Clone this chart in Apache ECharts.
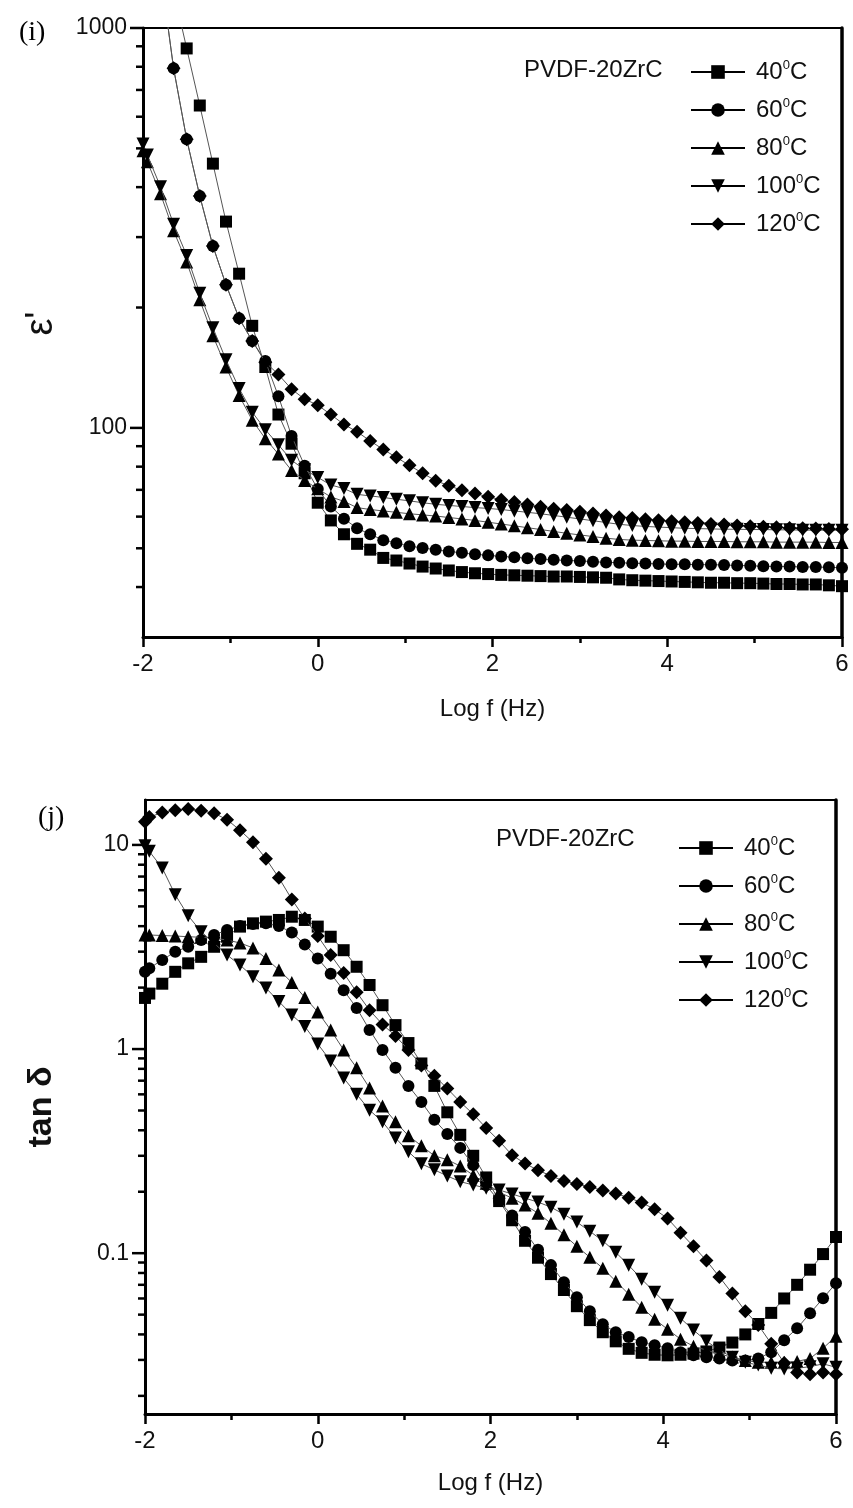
<!DOCTYPE html>
<html>
<head>
<meta charset="utf-8">
<script src="https://cdn.jsdelivr.net/npm/echarts@6/dist/echarts.min.js"></script>
<style>
html,body{margin:0;padding:0;background:#fff;}
#c{width:853px;height:1508px;}
</style>
</head>
<body>
<div id="c"></div>
<script>
// ---------- data ----------
const logF = [-2, -1.95, -1.8, -1.65, -1.5, -1.35, -1.2, -1.05, -0.9, -0.75,
  -0.6, -0.45, -0.3, -0.15, 0, 0.15, 0.3, 0.45, 0.6, 0.75,
  0.9, 1.05, 1.2, 1.35, 1.5, 1.65, 1.8, 1.95, 2.1, 2.25,
  2.4, 2.55, 2.7, 2.85, 3, 3.15, 3.3, 3.45, 3.6, 3.75,
  3.9, 4.05, 4.2, 4.35, 4.5, 4.65, 4.8, 4.95, 5.1, 5.25,
  5.4, 5.55, 5.7, 5.85, 6];

const temps = ['40', '60', '80', '100', '120'];

// (i) dielectric constant
const eps40 = [2700, 2400, 1720, 1240, 889, 640, 458, 328, 243, 180,
  142, 108, 91.3, 77.0, 65.0, 58.7, 54.2, 51.3, 49.6, 47.3,
  46.6, 45.8, 45.0, 44.5, 44.0, 43.6, 43.3, 43.1, 42.9, 42.8,
  42.7, 42.6, 42.5, 42.5, 42.4, 42.3, 42.2, 41.8, 41.6, 41.5,
  41.4, 41.3, 41.2, 41.1, 41.0, 41.0, 40.9, 40.9, 40.8, 40.7,
  40.7, 40.6, 40.6, 40.4, 40.2];
const eps60 = [2250, 2000, 1390, 793, 527, 380, 285, 228, 188, 165,
  147, 120, 95.5, 80.4, 70.3, 63.6, 59.3, 56.1, 54.2, 52.4,
  51.5, 50.6, 50.1, 49.6, 49.1, 48.7, 48.3, 48.0, 47.7, 47.5,
  47.2, 47.0, 46.8, 46.6, 46.5, 46.3, 46.1, 46.0, 45.9, 45.8,
  45.7, 45.6, 45.6, 45.5, 45.5, 45.4, 45.3, 45.2, 45.1, 45.0,
  45.0, 44.9, 44.9, 44.8, 44.7];
const eps80 = [493, 463, 385, 311, 260, 209, 170, 142, 120.5, 104.5,
  94, 86, 78.3, 73.9, 70.4, 67.2, 65.5, 63.2, 62.5, 62.0,
  61.5, 61.0, 60.6, 60.2, 59.7, 59.2, 58.7, 58.1, 57.5, 56.9,
  56.3, 55.7, 55.1, 54.5, 54.0, 53.5, 53.0, 52.6, 52.4, 52.3,
  52.2, 52.1, 52.1, 52.0, 52.0, 52.0, 51.9, 51.9, 51.9, 51.8,
  51.8, 51.8, 51.8, 51.7, 51.7];
const eps100 = [513, 481, 401, 323, 270, 217, 178, 148, 125.5, 109.5,
  99, 90.7, 83, 78.6, 75.2, 72, 70.5, 68.2, 67.6, 67,
  66.3, 65.7, 65.0, 64.4, 64.0, 63.6, 63.2, 62.9, 62.5, 62.0,
  61.5, 61.0, 60.4, 59.8, 59.2, 58.6, 58.0, 57.4, 57.0, 56.7,
  56.5, 56.3, 56.1, 56.0, 55.9, 55.8, 55.8, 55.7, 55.7, 55.6,
  55.6, 55.5, 55.5, 55.5, 55.5];
const eps120 = [2250, 2000, 1390, 793, 527, 380, 285, 228, 188, 165,
  146, 136, 125, 118, 114, 108, 102, 97.8, 92.8, 88.3,
  84.4, 80.6, 77.0, 73.8, 71.7, 69.8, 68.5, 67.3, 66.1, 65.3,
  64.3, 63.5, 62.8, 62.3, 61.7, 61.1, 60.4, 59.8, 59.5, 59.1,
  58.8, 58.4, 58.1, 57.8, 57.5, 57.3, 57.0, 56.8, 56.6, 56.4,
  56.2, 56.1, 56.0, 55.9, 55.8];

// (j) loss tangent
const tan40 = [1.78, 1.87, 2.09, 2.39, 2.63, 2.83, 3.17, 3.55, 3.98, 4.13,
  4.21, 4.29, 4.45, 4.29, 3.98, 3.55, 3.05, 2.53, 2.06, 1.64,
  1.31, 1.07, 0.85, 0.66, 0.49, 0.38, 0.30, 0.235, 0.18, 0.145,
  0.115, 0.095, 0.079, 0.066, 0.055, 0.047, 0.041, 0.037, 0.034, 0.0325,
  0.0318, 0.0316, 0.0318, 0.0322, 0.033, 0.0345, 0.0365, 0.040, 0.045, 0.051,
  0.060, 0.070, 0.083, 0.099, 0.12];
const tan60 = [2.39, 2.49, 2.73, 3.00, 3.17, 3.42, 3.62, 3.83, 4.01, 4.10,
  4.13, 4.01, 3.72, 3.25, 2.78, 2.34, 1.94, 1.59, 1.24, 0.99,
  0.81, 0.66, 0.55, 0.45, 0.384, 0.328, 0.27, 0.215, 0.18, 0.153,
  0.127, 0.104, 0.0874, 0.0721, 0.0609, 0.0519, 0.0449, 0.041, 0.0388, 0.0366,
  0.0354, 0.0342, 0.0327, 0.0316, 0.0309, 0.0305, 0.0298, 0.0298, 0.0305, 0.0327,
  0.0375, 0.0429, 0.0508, 0.0601, 0.0713];
const tan80 = [3.62, 3.62, 3.60, 3.58, 3.55, 3.53, 3.49, 3.42, 3.31, 3.13,
  2.78, 2.44, 2.12, 1.79, 1.52, 1.24, 0.99, 0.81, 0.644, 0.526,
  0.44, 0.376, 0.336, 0.300, 0.287, 0.267, 0.241, 0.220, 0.199, 0.186,
  0.172, 0.157, 0.140, 0.123, 0.108, 0.0955, 0.0844, 0.0729, 0.0630, 0.0544,
  0.0475, 0.0424, 0.0379, 0.035, 0.0335, 0.032, 0.031, 0.0298, 0.0292, 0.0292,
  0.0292, 0.0295, 0.0305, 0.0342, 0.0392];
const tan100 = [9.9, 9.3, 7.7, 5.7, 4.5, 3.76, 3.30, 2.89, 2.58, 2.26,
  1.99, 1.71, 1.47, 1.29, 1.06, 0.873, 0.721, 0.601, 0.502, 0.44,
  0.367, 0.314, 0.274, 0.256, 0.239, 0.224, 0.216, 0.208, 0.204, 0.195,
  0.186, 0.178, 0.168, 0.155, 0.142, 0.128, 0.115, 0.101, 0.0873, 0.0746,
  0.0644, 0.0556, 0.048, 0.042, 0.0371, 0.0335, 0.0309, 0.0292, 0.0283, 0.0273,
  0.0271, 0.0273, 0.0278, 0.0287, 0.0276];
const tan120 = [13.0, 13.7, 14.4, 14.8, 15.0, 14.7, 14.3, 13.3, 11.8, 10.3,
  8.56, 6.90, 5.41, 4.36, 3.58, 2.89, 2.36, 1.90, 1.55, 1.32,
  1.16, 0.99, 0.83, 0.74, 0.64, 0.55, 0.48, 0.41, 0.355, 0.302,
  0.275, 0.255, 0.239, 0.226, 0.218, 0.211, 0.203, 0.196, 0.187, 0.177,
  0.164, 0.148, 0.126, 0.108, 0.092, 0.0765, 0.0634, 0.052, 0.0445, 0.036,
  0.029, 0.026, 0.0255, 0.026, 0.0255];

const epsMajorTicks = [100, 1000];
const epsMinorTicks = [40, 50, 60, 70, 80, 90, 200, 300, 400, 500, 600, 700, 800, 900];
const tanMajorTicks = [0.1, 1, 10];
const tanMinorTicks = [0.02, 0.03, 0.04, 0.05, 0.06, 0.07, 0.08, 0.09,
  0.2, 0.3, 0.4, 0.5, 0.6, 0.7, 0.8, 0.9, 2, 3, 4, 5, 6, 7, 8, 9];

// ---------- styling ----------
const F = "'Liberation Sans', Arial, Helvetica, sans-serif";
const SERIF = "'Liberation Serif', 'Times New Roman', serif";
const INK = '#111';
const symbols = ['rect', 'circle', 'triangle', 'path://M0,0 L12,0 L6,10.4 Z', 'diamond'];
const sizes = [12, 12, 13, 13, 14];

function mkSeries(name, vals, k, g) {
  return {
    name: name, type: 'line',
    xAxisIndex: g, yAxisIndex: g * 2,
    data: logF.map((x, i) => [x, vals[i]]),
    symbol: symbols[k], symbolSize: sizes[k],
    showAllSymbol: true, clip: true,
    lineStyle: { color: '#555', width: 1 },
    itemStyle: { color: '#000' },
    emphasis: { disabled: true },
    z: 2 + k
  };
}

const pow10 = v => Math.abs(Math.log10(v) - Math.round(Math.log10(v))) < 1e-6;

function xAx(g) {
  return {
    gridIndex: g, type: 'value', min: -2, max: 6, interval: 2,
    name: 'Log f (Hz)', nameLocation: 'middle', nameGap: g === 0 ? 60 : 57,
    nameTextStyle: { fontFamily: F, fontSize: 24, color: INK },
    axisLine: { onZero: false, lineStyle: { color: '#000', width: 3 } },
    axisTick: { length: 10, lineStyle: { color: '#000', width: 2.5 } },
    minorTick: { show: true, splitNumber: 2, length: 6, lineStyle: { color: '#000', width: 2.5 } },
    axisLabel: { fontFamily: F, fontSize: 24, color: INK, margin: 15 },
    splitLine: { show: false }
  };
}

function yAx(g, min, max, name, nameSize, nameGap, namePad) {
  return [{
    gridIndex: g, type: 'log', logBase: 10, min: min, max: max, position: 'left',
    name: name, nameLocation: 'middle', nameRotate: 90, nameGap: nameGap,
    nameTextStyle: { fontFamily: F, fontSize: nameSize, color: INK, fontWeight: g === 1 ? 'bold' : 'normal', padding: namePad },
    axisLine: { onZero: false, lineStyle: { color: '#000', width: 3 } },
    axisTick: { show: false },
    axisLabel: { fontFamily: F, fontSize: 23, color: INK, margin: 16,
      formatter: v => pow10(v) ? String(+Number(v).toPrecision(6)) : '' },
    splitLine: { show: false }
  }, {
    gridIndex: g, type: 'log', logBase: 10, min: min, max: max, position: 'right',
    axisLine: { show: true, onZero: false, lineStyle: { color: '#000', width: 3.5 } },
    axisTick: { show: false }, axisLabel: { show: false }, splitLine: { show: false }
  }];
}

function legend(left, top) {
  return {
    left: left, top: top, orient: 'vertical', itemGap: 13, padding: 0,
    itemWidth: 54, itemHeight: 17, selectedMode: false,
    data: temps,
    lineStyle: { color: '#000', width: 2 },
    formatter: n => '{n|' + n + '}{s|0}{n|C}',
    textStyle: {
      padding: [0, 0, 0, 6],
      rich: {
        n: { fontFamily: F, fontSize: 24, color: INK, lineHeight: 26 },
        s: { fontFamily: F, fontSize: 13, color: INK, lineHeight: 26, verticalAlign: 'top', padding: [0, 0, 10, 0] }
      }
    }
  };
}

const chart = echarts.init(document.getElementById('c'), null, { renderer: 'canvas' });

const option = {
  animation: false,
  backgroundColor: '#fff',
  title: [
    { text: '(i)', left: 14, top: 14, textStyle: { fontFamily: SERIF, fontSize: 28, fontWeight: 'normal', color: '#000' } },
    { text: '(j)', left: 33, top: 799, textStyle: { fontFamily: SERIF, fontSize: 28, fontWeight: 'normal', color: '#000' } },
    { text: 'PVDF-20ZrC', left: 519, top: 53, textStyle: { fontFamily: F, fontSize: 24, fontWeight: 'normal', color: INK } },
    { text: 'PVDF-20ZrC', left: 491, top: 822, textStyle: { fontFamily: F, fontSize: 24, fontWeight: 'normal', color: INK } }
  ],
  legend: [legend(690, 59), legend(678, 835)],
  grid: [
    { left: 143, top: 28, width: 699, height: 609, show: true, borderColor: '#000', borderWidth: 2, containLabel: false, outerBoundsMode: 'none' },
    { left: 145, top: 800, width: 691, height: 614, show: true, borderColor: '#000', borderWidth: 2, containLabel: false, outerBoundsMode: 'none' }
  ],
  xAxis: [xAx(0), xAx(1)],
  yAxis: [].concat(yAx(0, 30, 1000, "ε'", 38, 82, [0, 0, 0, 18]), yAx(1, 0.0163, 16.6, 'tan δ', 34, 86, [0, 0, 0, 0])),
  series: [
    mkSeries('40', eps40, 0, 0), mkSeries('60', eps60, 1, 0), mkSeries('80', eps80, 2, 0),
    mkSeries('100', eps100, 3, 0), mkSeries('120', eps120, 4, 0),
    mkSeries('40', tan40, 0, 1), mkSeries('60', tan60, 1, 1), mkSeries('80', tan80, 2, 1),
    mkSeries('100', tan100, 3, 1), mkSeries('120', tan120, 4, 1)
  ]
};
chart.setOption(option);

// log-axis tick marks (major and 2..9 minor) placed through the axis scale
function ticks(yIdx, xIdx, majors, minors) {
  const ax = chart.convertToPixel({ xAxisIndex: xIdx }, -2);
  const out = [];
  majors.forEach(v => {
    const y = chart.convertToPixel({ yAxisIndex: yIdx }, v);
    out.push({ type: 'line', silent: true, z: 10, shape: { x1: ax - 13, y1: y, x2: ax, y2: y }, style: { stroke: '#000', lineWidth: 2.5 } });
  });
  minors.forEach(v => {
    const y = chart.convertToPixel({ yAxisIndex: yIdx }, v);
    out.push({ type: 'line', silent: true, z: 10, shape: { x1: ax - 7, y1: y, x2: ax, y2: y }, style: { stroke: '#000', lineWidth: 2.5 } });
  });
  return out;
}
chart.setOption({ graphic: ticks(0, 0, epsMajorTicks, epsMinorTicks).concat(ticks(2, 1, tanMajorTicks, tanMinorTicks)) });
</script>
</body>
</html>
